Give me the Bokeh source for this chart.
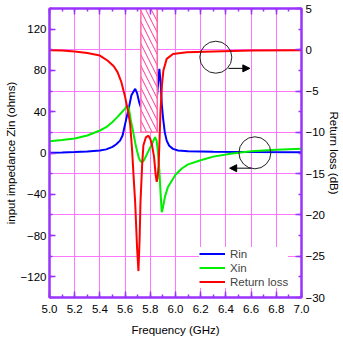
from bokeh.plotting import figure
from bokeh.models import (Range1d, LinearAxis, FixedTicker, Arrow, NormalHead,
                          Legend, LegendItem, NumeralTickFormatter, CustomJSTickFormatter)
from bokeh.embed import file_html
from bokeh.resources import INLINE

# ---------------- data ----------------
f_rin = [5.00, 5.10, 5.20, 5.30, 5.40, 5.45, 5.50, 5.53, 5.56, 5.58, 5.60, 5.63,
         5.65, 5.68, 5.695, 5.71, 5.72, 5.75, 5.79, 5.83, 5.85, 5.862, 5.872,
         5.882, 5.892, 5.902, 5.915, 5.93, 5.95, 5.98, 6.02, 6.10, 6.30, 6.60, 7.00]
rin = [0.3, 0.6, 1.0, 1.5, 2.4, 3.5, 6.0, 8.5, 12, 17, 28, 44,
       56, 62.2, 58, 50, 46, 36, 28, 33, 50, 68, 81.5,
       68, 46, 33, 20, 12, 7, 4, 2.4, 1.6, 1.2, 1.0, 0.8]

f_xin = [5.00, 5.10, 5.20, 5.30, 5.40, 5.45, 5.50, 5.54, 5.57, 5.60, 5.615, 5.63,
         5.645, 5.665, 5.68, 5.695, 5.71, 5.72, 5.733, 5.75, 5.77, 5.79, 5.81,
         5.825, 5.838, 5.85, 5.86, 5.872, 5.882, 5.891, 5.90, 5.917, 5.94, 5.96,
         6.00, 6.05, 6.10, 6.20, 6.30, 6.45, 6.60, 6.80, 7.00]
xin = [11.4, 12.5, 14, 17, 21.8, 25, 30, 35, 39, 43, 46, 43,
       32, 20, 10, 2, -5, -7.5, -9, -7, -2, 3, 8,
       12, 15.3, 12, 2, -17, -40, -57.4, -53, -42, -33, -29,
       -21, -15, -11, -7, -3.5, -0.5, 1.7, 3.1, 4.0]

f_rl = [5.00, 5.10, 5.20, 5.30, 5.40, 5.46, 5.51, 5.54, 5.57, 5.60, 5.625, 5.64,
        5.655, 5.67, 5.68, 5.695, 5.706, 5.715, 5.722, 5.735, 5.745, 5.765, 5.785,
        5.80, 5.812, 5.83, 5.843, 5.851, 5.858, 5.866, 5.872, 5.881, 5.893, 5.904,
        5.93, 5.98, 6.09, 6.30, 6.60, 7.00]
rl = [-0.05, -0.1, -0.2, -0.4, -0.7, -1.3, -2.0, -2.7, -3.9, -5.7, -7.6, -9.0,
      -12, -16, -18.5, -24, -26.8, -23, -18.5, -14, -11.6, -10.6, -10.4,
      -10.8, -11.4, -13, -15.2, -16.0, -15.5, -14, -11.5, -7.35, -4.2, -2.5,
      -1.1, -0.5, -0.3, -0.2, -0.1, -0.05]

band_f = [5.725, 5.855]
band_db = [-10, 5]

circle_f = [6.32, 6.63]
circle_z = [92.8, 0.2]
arrow_rl = [6.42, 6.59, 82.0]      # x_start, x_end, y (left units)
arrow_z = [6.60, 6.43, -14.7]

x_ticks = [5.0, 5.2, 5.4, 5.6, 5.8, 6.0, 6.2, 6.4, 6.6, 6.8, 7.0]
x_minor = [5.0 + 0.1 * i for i in range(21)]
z_ticks = [-120, -80, -40, 0, 40, 80, 120]
z_minor = [-140 + 20 * i for i in range(15)]
db_ticks = [-30, -25, -20, -15, -10, -5, 0, 5]
db_minor = [-30 + 2.5 * i for i in range(15)]

# ---------------- style ----------------
AX = "#9933ff"
GRID = "#ff77ff"
FONT = "Liberation Sans"
FS = "11.5px"

p = figure(width=343, height=341, x_range=Range1d(5, 7), y_range=Range1d(-140, 140),
           output_backend="svg", toolbar_location=None,
           min_border_left=49, min_border_right=41, min_border_top=8, min_border_bottom=44)
p.extra_y_ranges = {"rl": Range1d(-30, 5)}
p.outline_line_color = AX
p.outline_line_width = 2
p.background_fill_color = "white"

def style_axis(ax):
    ax.axis_line_color = AX
    ax.axis_line_width = 2
    ax.major_tick_line_color = AX
    ax.minor_tick_line_color = AX
    ax.major_tick_line_width = 1.5
    ax.minor_tick_line_width = 1.5
    ax.major_tick_in = 6
    ax.major_tick_out = 0
    ax.minor_tick_in = 3
    ax.minor_tick_out = 0
    ax.major_label_text_font = FONT
    ax.major_label_text_font_size = FS
    ax.major_label_text_color = "black"
    ax.major_label_standoff = 3
    ax.axis_label_text_font = FONT
    ax.axis_label_text_font_size = FS
    ax.axis_label_text_font_style = "normal"
    ax.axis_label_text_color = "black"
    ax.axis_label_standoff = 3

xb = p.xaxis[0]
xb.ticker = FixedTicker(ticks=x_ticks, minor_ticks=x_minor)
xb.formatter = NumeralTickFormatter(format="0.0")
xb.axis_label = "Frequency (GHz)"
style_axis(xb)
xb.major_label_standoff = 7
xb.axis_label_standoff = 8

yl = p.yaxis[0]
yl.ticker = FixedTicker(ticks=z_ticks, minor_ticks=z_minor)
yl.axis_label = "input impedance Zin (ohms)"
style_axis(yl)
yl.axis_label_standoff = 1

yr = LinearAxis(y_range_name="rl", axis_label="Return loss (dB)",
                ticker=FixedTicker(ticks=db_ticks, minor_ticks=db_minor))
style_axis(yr)
yr.major_label_standoff = 4
yr.axis_label_standoff = 0
p.add_layout(yr, "right")

xt = LinearAxis(ticker=FixedTicker(ticks=x_ticks, minor_ticks=x_minor),
                formatter=CustomJSTickFormatter(code="return ''"))
style_axis(xt)
xt.major_label_standoff = 0
p.add_layout(xt, "above")

p.xgrid.ticker = FixedTicker(ticks=x_ticks)
p.ygrid.ticker = FixedTicker(ticks=[-100, -60, -20, 20, 60, 100])
for g in (p.xgrid[0], p.ygrid[0]):
    g.grid_line_color = GRID
    g.grid_line_width = 1

# ---------------- glyphs ----------------
r_rin = p.line(f_rin, rin, line_color="#0000ff", line_width=2)
r_xin = p.line(f_xin, xin, line_color="#00ee00", line_width=2)
r_rl = p.line(f_rl, rl, line_color="#ff0000", line_width=2, y_range_name="rl")

p.quad(left=[band_f[0]], right=[band_f[1]], bottom=[band_db[0]], top=[band_db[1]],
       y_range_name="rl", fill_color="white", fill_alpha=1,
       hatch_pattern="\\", hatch_color="#ff3399", hatch_scale=11, hatch_weight=1,
       line_color="#ff66aa", line_width=1.5)

p.scatter(circle_f, circle_z, size=32, fill_color=None, line_color="#222222", line_width=1)

for a in (arrow_rl, arrow_z):
    p.add_layout(Arrow(end=NormalHead(size=7, fill_color="black", line_color="black"),
                       x_start=a[0], y_start=a[2], x_end=a[1], y_end=a[2],
                       line_color="black", line_width=1))

legend = Legend(items=[LegendItem(label="Rin", renderers=[r_rin]),
                       LegendItem(label="Xin", renderers=[r_xin]),
                       LegendItem(label="Return loss", renderers=[r_rl])],
                location=(150, 9))
legend.background_fill_color = "white"
legend.background_fill_alpha = 1
legend.border_line_color = None
legend.padding = 2
legend.margin = 0
legend.spacing = 1
legend.glyph_width = 26
legend.glyph_height = 13
legend.label_height = 13
legend.label_standoff = 5
legend.label_text_font = FONT
legend.label_text_font_size = FS
p.add_layout(legend, "center")

open("out.html", "w").write(file_html(p, INLINE))
